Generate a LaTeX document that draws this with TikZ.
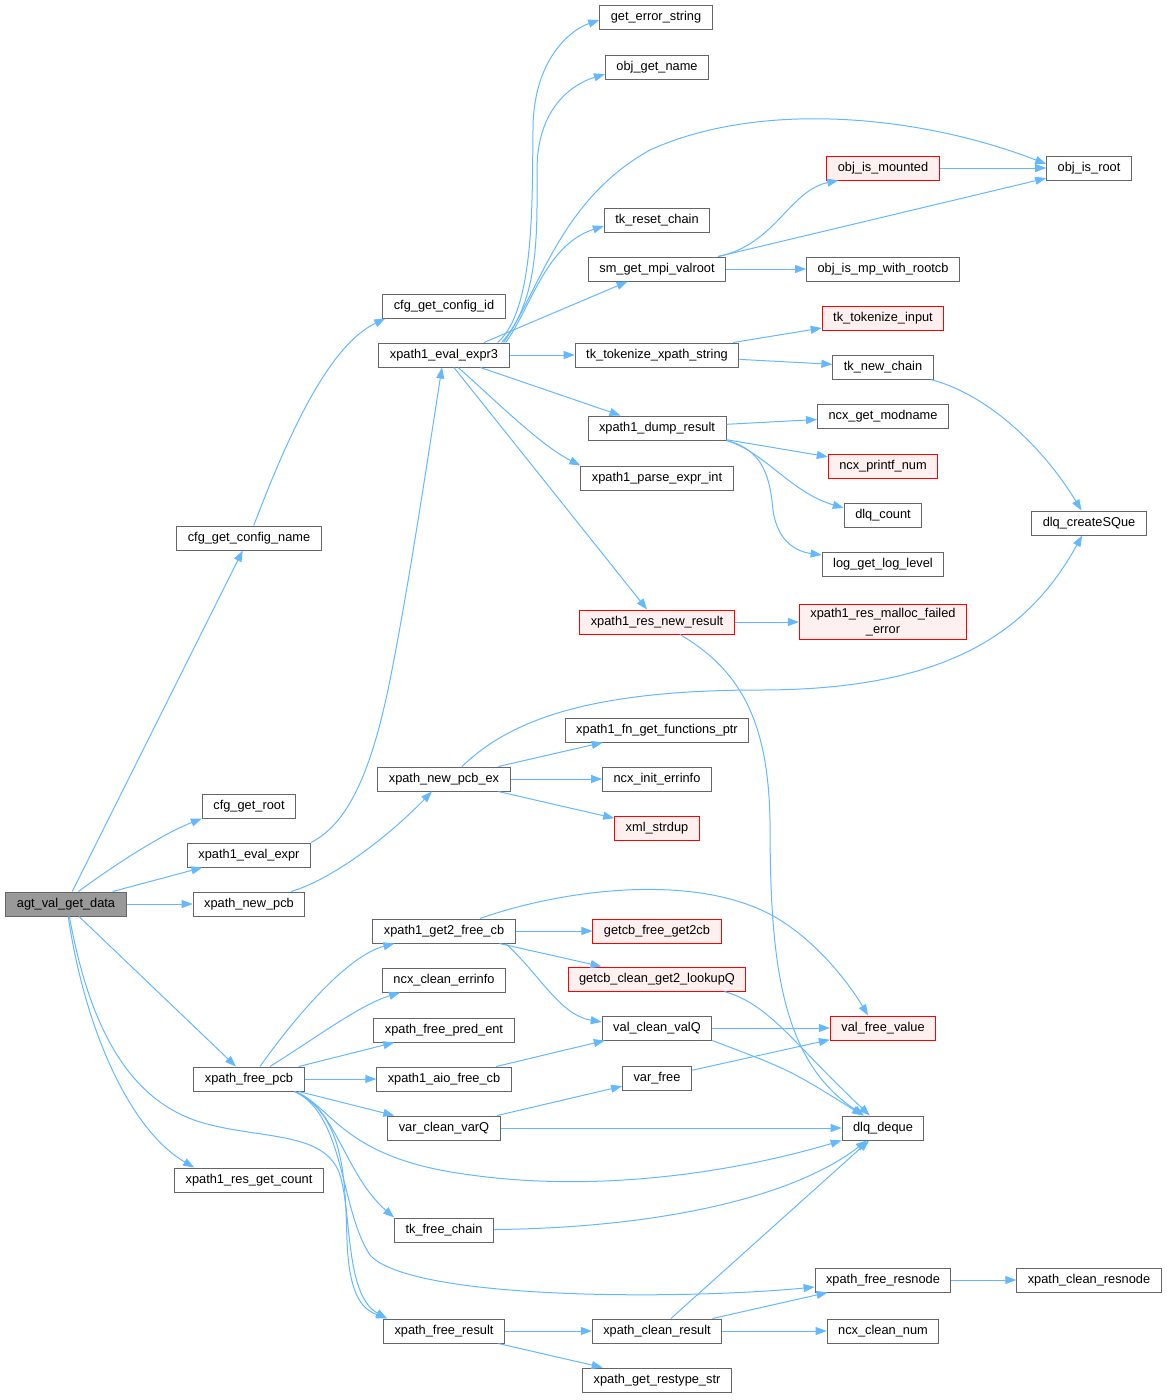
\documentclass[tikz,border=0pt]{standalone}
\usepackage{fontspec}
\setmainfont{Liberation Sans}
\usetikzlibrary{arrows.meta}
\definecolor{edgeblue}{HTML}{63B8FF}
\definecolor{boxgray}{HTML}{666666}
\definecolor{rootfill}{HTML}{999999}
\definecolor{redfill}{HTML}{FFF0F0}
\tikzset{
	fn/.style={draw=boxgray, fill=white, line width=1pt, minimum height=24pt, inner xsep=11pt, inner ysep=4pt, font=\fontsize{12.8}{15.5}\selectfont, align=center},
	fnred/.style={fn, draw=red, fill=redfill},
	fnroot/.style={fn, fill=rootfill},
	call/.style={draw=edgeblue, line width=1pt, -{Triangle[length=11pt,width=8pt]}},
}
\begin{document}
\begin{tikzpicture}[x=1pt,y=-1pt]
			\useasboundingbox (0,0) rectangle (1167,1400);
			\node[fn] (ges) at (656,17) {get\_error\_string};
			\node[fn] (ogn) at (657,67) {obj\_get\_name};
			\node[fnred] (oim) at (883,168) {obj\_is\_mounted};
			\node[fn] (oir) at (1089,168) {obj\_is\_root};
			\node[fn] (trc) at (657,220) {tk\_reset\_chain};
			\node[fn] (smv) at (657,269) {sm\_get\_mpi\_valroot};
			\node[fn] (omr) at (883,269) {obj\_is\_mp\_with\_rootcb};
			\node[fn] (cid) at (444,306) {cfg\_get\_config\_id};
			\node[fnred] (tti) at (883,318) {tk\_tokenize\_input};
			\node[fn] (ee3) at (444,355) {xpath1\_eval\_expr3};
			\node[fn] (txs) at (657,355) {tk\_tokenize\_xpath\_string};
			\node[fn] (tnc) at (883,367) {tk\_new\_chain};
			\node[fn] (gmn) at (883,416) {ncx\_get\_modname};
			\node[fn] (xdr) at (657,428) {xpath1\_dump\_result};
			\node[fnred] (pfn) at (883,466) {ncx\_printf\_num};
			\node[fn] (pei) at (657,478) {xpath1\_parse\_expr\_int};
			\node[fn] (dqc) at (883,515) {dlq\_count};
			\node[fn] (dcs) at (1089,523) {dlq\_createSQue};
			\node[fn] (cnm) at (249,538) {cfg\_get\_config\_name};
			\node[fn] (lgl) at (883,564) {log\_get\_log\_level};
			\node[fnred] (rnr) at (657,622) {xpath1\_res\_new\_result};
			\node[fnred] (rmf) at (883,622) {xpath1\_res\_malloc\_failed\\\_error};
			\node[fn] (fgf) at (657,730) {xpath1\_fn\_get\_functions\_ptr};
			\node[fn] (npx) at (444,779) {xpath\_new\_pcb\_ex};
			\node[fn] (iei) at (657,779) {ncx\_init\_errinfo};
			\node[fn] (cgr) at (249,806) {cfg\_get\_root};
			\node[fnred] (xsd) at (657,828) {xml\_strdup};
			\node[fn] (ee1) at (249,855) {xpath1\_eval\_expr};
			\node[fnroot] (agt) at (66,904) {agt\_val\_get\_data};
			\node[fn] (npc) at (249,904) {xpath\_new\_pcb};
			\node[fn] (g2f) at (444,931) {xpath1\_get2\_free\_cb};
			\node[fnred] (fg2) at (657,931) {getcb\_free\_get2cb};
			\node[fn] (cei) at (444,980) {ncx\_clean\_errinfo};
			\node[fnred] (glq) at (657,979) {getcb\_clean\_get2\_lookupQ};
			\node[fn] (fpe) at (444,1030) {xpath\_free\_pred\_ent};
			\node[fn] (cvq) at (657,1028) {val\_clean\_valQ};
			\node[fnred] (vfv) at (883,1028) {val\_free\_value};
			\node[fn] (fpc) at (249,1079) {xpath\_free\_pcb};
			\node[fn] (afc) at (444,1079) {xpath1\_aio\_free\_cb};
			\node[fn] (vfr) at (657,1078) {var\_free};
			\node[fn] (cvr) at (444,1128) {var\_clean\_varQ};
			\node[fn] (dqd) at (883,1128) {dlq\_deque};
			\node[fn] (rgc) at (249,1180) {xpath1\_res\_get\_count};
			\node[fn] (tfc) at (444,1230) {tk\_free\_chain};
			\node[fn] (frn) at (883,1280) {xpath\_free\_resnode};
			\node[fn] (crn) at (1089,1280) {xpath\_clean\_resnode};
			\node[fn] (frs) at (444,1331) {xpath\_free\_result};
			\node[fn] (crs) at (657,1331) {xpath\_clean\_result};
			\node[fn] (ccn) at (883,1331) {ncx\_clean\_num};
			\node[fn] (grs) at (657,1380) {xpath\_get\_restype\_str};

			\draw[call] (agt) -- (cnm);
			\draw[call] (agt.45) .. controls (110,868) and (160,835) .. (cgr.south west);
			\draw[call] (agt) -- (ee1);
			\draw[call] (agt) -- (npc);
			\draw[call] (agt) -- (fpc);
			\draw[call] (agt.-80) .. controls (85,1030) and (130,1130) .. ([xshift=20pt]rgc.north west);
			\draw[call] (agt.-75) .. controls (90,1030) and (130,1100) .. (200,1122) .. controls (260,1140) and (325,1130) .. (340,1175) .. controls (352,1215) and (345,1295) .. ([xshift=4pt]frs.north west);
			\draw[call] (cnm) .. controls (290,430) and (330,345) .. ([xshift=3pt]cid.south west);
			\draw[call] (ee1.north east) .. controls (345,825) and (370,780) .. (390,680) .. controls (410,580) and (432,430) .. (ee3);
			\draw[call] ([xshift=-12pt]ee3.north east) .. controls (535,310) and (532,200) .. (533,130) .. controls (533,60) and (570,30) .. ([yshift=-3pt]ges.west);
			\draw[call] ([xshift=-8pt]ee3.north east) .. controls (540,300) and (537,230) .. (537,170) .. controls (537,110) and (570,85) .. ([yshift=-7pt]ogn.west);
			\draw[call] ([xshift=-6pt]ee3.north east) .. controls (540,290) and (560,200) .. (650,150) .. controls (760,100) and (920,115) .. ([yshift=4pt]oir.west);
			\draw[call] ([xshift=-4pt]ee3.north east) .. controls (530,310) and (545,245) .. ([yshift=-6pt]trc.west);
			\draw[call] ([xshift=40pt]ee3.north) -- (smv);
			\draw[call] (ee3) -- (txs);
			\draw[call] (ee3) -- (xdr);
			\draw[call] (ee3) .. controls (495,400) and (540,445) .. (pei.north west);
			\draw[call] (ee3) -- (rnr);
			\draw[call] ([xshift=-8pt]smv.north east) .. controls (775,245) and (790,190) .. ([xshift=12pt]oim.south west);
			\draw[call] ([xshift=-8pt]smv.north east) -- (oir);
			\draw[call] (smv) -- (omr);
			\draw[call] (oim) -- (oir);
			\draw[call] (txs) -- (tti);
			\draw[call] (txs) -- (tnc);
			\draw[call] (tnc) .. controls (990,395) and (1045,450) .. (dcs);
			\draw[call] (xdr) -- (gmn);
			\draw[call] (xdr) -- (pfn);
			\draw[call] (xdr.south east) .. controls (765,452) and (790,492) .. ([yshift=7pt]dqc.west);
			\draw[call] (xdr.south east) .. controls (765,450) and (770,480) .. (773,510) .. controls (778,545) and (800,552) .. ([yshift=9pt]lgl.west);
			\draw[call] (rnr) -- (rmf);
			\draw[call] ([xshift=23pt]rnr.south) .. controls (740,670) and (768,720) .. (770,820) .. controls (770,960) and (780,1060) .. (dqd);
			\draw[call] (npc) .. controls (330,880) and (385,840) .. (npx);
			\draw[call] (npx) -- (fgf);
			\draw[call] (npx) -- (iei);
			\draw[call] (npx) -- (xsd);
			\draw[call] ([xshift=18pt]npx.north) .. controls (510,720) and (590,690) .. (760,690) .. controls (950,690) and (1030,630) .. (dcs);
			\draw[call] ([xshift=11pt]fpc.north) .. controls (300,1010) and (350,955) .. ([xshift=22pt]g2f.south west);
			\draw[call] ([xshift=21pt]fpc.north) .. controls (320,1035) and (360,1005) .. ([xshift=18pt]cei.south west);
			\draw[call] (fpc) -- (fpe);
			\draw[call] (fpc) -- (afc);
			\draw[call] (fpc) -- (cvr);
			\draw[call] ([xshift=-10pt]fpc.south east) .. controls (330,1105) and (340,1150) .. (440,1170) .. controls (600,1200) and (760,1165) .. (dqd);
			\draw[call] ([xshift=-10pt]fpc.south east) .. controls (335,1105) and (345,1175) .. (tfc.north west);
			\draw[call] ([xshift=-10pt]fpc.south east) .. controls (345,1115) and (340,1210) .. (370,1255) .. controls (410,1300) and (680,1300) .. ([yshift=-7pt]frn.west);
			\draw[call] ([xshift=-10pt]fpc.south east) .. controls (345,1115) and (345,1180) .. (347,1240) .. controls (349,1300) and (365,1310) .. ([xshift=4pt]frs.north west);
			\draw[call] (g2f) -- (fg2);
			\draw[call] (g2f) -- (glq);
			\draw[call] ([xshift=-10pt]g2f.south east) .. controls (540,975) and (560,1015) .. ([yshift=6pt]cvq.west);
			\draw[call] ([xshift=36pt]g2f.north) .. controls (560,890) and (700,870) .. (780,920) .. controls (820,945) and (850,985) .. ([xshift=-15pt]vfv.north);
			\draw[call] ([xshift=-22pt]glq.south east) .. controls (770,1005) and (790,1040) .. (dqd);
			\draw[call] (cvq) -- (vfv);
			\draw[call] (cvq.south east) .. controls (790,1070) .. (dqd);
			\draw[call] (afc) -- (cvq);
			\draw[call] (cvr) -- (vfr);
			\draw[call] (cvr) -- (dqd);
			\draw[call] (vfr) -- (vfv);
			\draw[call] (tfc) .. controls (650,1228) and (790,1200) .. (dqd);
			\draw[call] (frn) -- (crn);
			\draw[call] (frs) -- (crs);
			\draw[call] (frs) -- (grs);
			\draw[call] (crs) -- (frn);
			\draw[call] (crs) -- (ccn);
			\draw[call] (crs) -- (dqd);
		\end{tikzpicture}
\end{document}
